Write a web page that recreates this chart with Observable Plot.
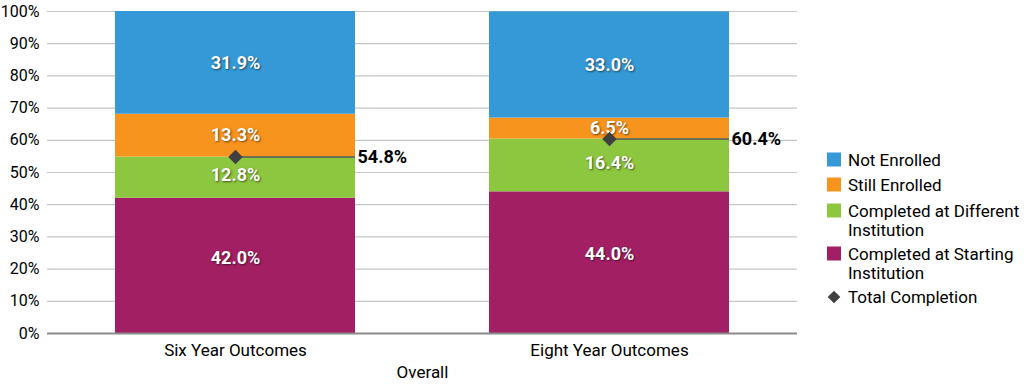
<!DOCTYPE html>
<html>
<head>
<meta charset="utf-8">
<script src="https://cdn.jsdelivr.net/npm/d3@7"></script>
<script src="https://cdn.jsdelivr.net/npm/@observablehq/plot@0.6"></script>
<style>
  body { margin: 0; background: #fff; }
  #wrap { position: relative; width: 1024px; height: 388px; font-family: Roboto, sans-serif; }
  #legend { position: absolute; left: 0; top: 0; }
</style>
</head>
<body>
<div id="wrap"></div>
<script>
const categories = ["Six Year Outcomes", "Eight Year Outcomes"];
const seriesNames = ["Completed at Starting Institution", "Completed at Different Institution", "Still Enrolled", "Not Enrolled"];
const startInst = [42.0, 44.0];
const diffInst = [12.8, 16.4];
const stillEnr = [13.3, 6.5];
const notEnr = [31.9, 33.0];
const totalCompletion = [54.8, 60.4];
const colors = ["#a21f63", "#8dc63f", "#f7941d", "#3499d6"];
const yTicks = [0, 10, 20, 30, 40, 50, 60, 70, 80, 90, 100];

const seriesValues = [startInst, diffInst, stillEnr, notEnr];
const table = [];
seriesNames.forEach((s, si) => categories.forEach((c, ci) => table.push({category: c, series: s, value: seriesValues[si][ci]})));
const totals = categories.map((c, i) => ({category: c, value: totalCompletion[i]}));

const font = 'Roboto, sans-serif';
const labelMark = (test, dy) => Plot.text(table, Plot.filter(test, Plot.stackY({x: "category", y: "value", z: "series", order: null,
  text: d => d.value.toFixed(1) + "%", fill: "white", fontWeight: "bold", fontSize: 18, dy})));

const chart = Plot.plot({
  width: 1024,
  height: 388,
  marginLeft: 47,
  marginRight: 227,
  marginTop: 11,
  marginBottom: 55,
  style: {fontFamily: font, fontSize: "17px", color: "#000", background: "#fff"},
  x: {domain: categories, paddingInner: 0.358, paddingOuter: 0.18, label: null},
  y: {domain: [0, 100], label: null},
  color: {domain: seriesNames, range: colors},
  marks: [
    Plot.gridY(yTicks, {stroke: "#c6c6c6", strokeOpacity: 1, strokeWidth: 1.2}),
    Plot.ruleX([0], {frameAnchor: "left", stroke: "#c6c6c6", strokeWidth: 1.5, y1: 0, y2: 100}),
    Plot.barY(table, Plot.stackY({x: "category", y: "value", fill: "series", order: null})),
    labelMark(d => d.series === seriesNames[0], -8),
    labelMark(d => d.series === seriesNames[1], -2),
    labelMark(d => d.series === seriesNames[2] || d.series === seriesNames[3], 0),
    Plot.ruleY(totals, {x1: "category", x2: "category", y: "value", insetLeft: 120, stroke: "#555", strokeWidth: 1.5}),
    Plot.dot(totals, {x: "category", y: "value", symbol: "diamond2", r: 6.5, fill: "#404040", stroke: "none"}),
    Plot.text(totals, {x: "category", y: "value", text: d => d.value.toFixed(1) + "%", dx: 122, textAnchor: "start", fill: "#000", fontWeight: "bold", fontSize: 18}),
    Plot.ruleY([0], {stroke: "#8a8a8a", strokeWidth: 2}),
    Plot.axisY(yTicks, {tickSize: 0, tickPadding: 8, tickFormat: d => d + "%", fontSize: 16, label: null}),
    Plot.axisX({tickSize: 0, tickPadding: 10, fontSize: 17, label: null}),
    Plot.text(["Overall"], {frameAnchor: "bottom", dy: 44, fontSize: 17, fill: "#000"})
  ]
});

document.getElementById("wrap").appendChild(chart);
d3.select(chart).selectAll("text").filter(function() {
  return this.parentNode && d3.select(this.parentNode).attr("fill") === "white";
}).style("text-shadow", "1px 1px 2px rgba(0,0,0,0.55)");

// legend
const legendItems = [
  {label: ["Not Enrolled"], color: colors[3], y: 166},
  {label: ["Still Enrolled"], color: colors[2], y: 191},
  {label: ["Completed at Different", "Institution"], color: colors[1], y: 217},
  {label: ["Completed at Starting", "Institution"], color: colors[0], y: 260},
  {label: ["Total Completion"], color: "#404040", y: 303, diamond: true}
];
const lg = d3.select("#wrap").append("svg").attr("id", "legend").attr("width", 1024).attr("height", 388)
  .style("font-family", font).style("font-size", "17px");
legendItems.forEach(it => {
  if (it.diamond) {
    lg.append("path").attr("d", d3.symbol(d3.symbolSquare, 80)()).attr("transform", `translate(834,${it.y - 6}) rotate(45)`).attr("fill", it.color);
  } else {
    lg.append("rect").attr("x", 827).attr("y", it.y - 13.5).attr("width", 14).attr("height", 14).attr("fill", it.color);
  }
  it.label.forEach((t, i) => lg.append("text").attr("x", 848).attr("y", it.y + i * 18.5).attr("fill", "#000").text(t));
});
</script>
</body>
</html>
